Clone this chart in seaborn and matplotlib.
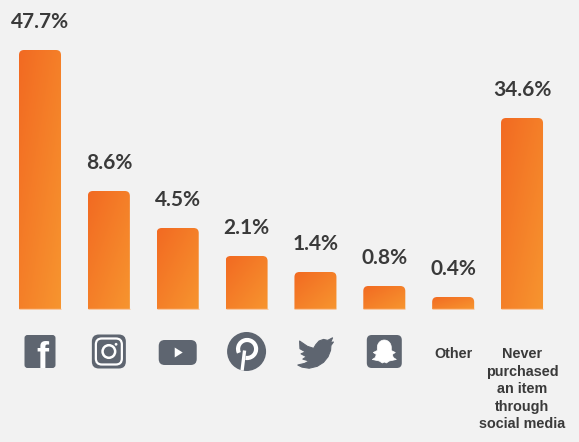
import numpy as np
import matplotlib
matplotlib.use("Agg")
import matplotlib.pyplot as plt
import seaborn as sns
from matplotlib.patches import FancyBboxPatch, Circle, Polygon, Arc
from matplotlib.colors import LinearSegmentedColormap

platforms = ["Facebook", "Instagram", "YouTube", "Pinterest", "Twitter", "Snapchat", "Other", "Never"]
shares = [47.7, 8.6, 4.5, 2.1, 1.4, 0.8, 0.4, 34.6]
# the infographic is not drawn to scale, so keep the drawn heights too
bar_heights = [259.5, 118.5, 81.5, 53.5, 37.5, 23.5, 12.5, 191.5]
tick_labels = ["", "", "", "", "", "", "Other",
               "Never\npurchased\nan item\nthrough\nsocial media"]

BG = "#f2f2f2"
ICON = "#5e6570"
TEXT = "#3a3a3a"
W, H = 579, 442
BASE = 309.5      # pixel row of the bar bottoms
STEP = 68.86      # pixels between bar centres
FIRST = 40        # pixel column of first bar centre

sns.set_style("white")
plt.rcParams["font.family"] = ["Lato", "DejaVu Sans"]

fig = plt.figure(figsize=(W / 100, H / 100), dpi=100, facecolor=BG)
ax = fig.add_axes([0, (H - BASE) / H, 1, BASE / H])
ax.set_facecolor(BG)

sns.barplot(x=platforms, y=bar_heights, ax=ax, width=0.61, color="#f37a25")

grad = LinearSegmentedColormap.from_list("org", ["#f26a22", "#f7952f"])
yy, xx = np.mgrid[0:1:100j, 0:1:30j]
tt = (xx + yy) / 2  # row 0 is the top of the image (origin upper)

aspect = STEP / 1.0
for p, val in zip(ax.patches, shares):
    x0, w, h = p.get_x(), p.get_width(), p.get_height()
    p.set_visible(False)
    r = 5 / STEP
    box = FancyBboxPatch((x0, -12), w, h + 12,
                         boxstyle=f"round,pad=0,rounding_size={r}",
                         mutation_aspect=aspect, fc="none", ec="none")
    ax.add_patch(box)
    im = ax.imshow(tt, cmap=grad, extent=(x0, x0 + w, 0, h), aspect="auto",
                   origin="upper", zorder=2, vmin=0, vmax=1)
    im.set_clip_path(box)
    ax.plot([x0, x0 + w], [0.6, 0.6], color="#f9c9a2", lw=1, zorder=3,
            solid_capstyle="butt")
    ax.annotate(f"{val}%", (x0 + w / 2, h), xytext=(0, 28),
                textcoords="offset pixels", ha="center", va="center",
                fontsize=15, fontweight="bold", color=TEXT, clip_on=False)

ax.set_xlim(-FIRST / STEP, (W - FIRST) / STEP)
ax.set_ylim(0, BASE)
ax.axis("off")

# overlay in pixel coordinates (y downwards) for icons and labels
ov = fig.add_axes([0, 0, 1, 1], zorder=5)
ov.set_xlim(0, W)
ov.set_ylim(H, 0)
ov.axis("off")
ov.patch.set_alpha(0)


def rbox(cx, cy, w, h, r, **kw):
    b = FancyBboxPatch((cx - w / 2, cy - h / 2), w, h,
                       boxstyle=f"round,pad=0,rounding_size={r}", **kw)
    ov.add_patch(b)
    return b


centers = [ax.transData.transform((i, 0))[0] for i in range(len(platforms))]
cy = 351.5

# facebook
cx = centers[0]
b = rbox(cx, cy, 31, 33, 3, fc=ICON, ec="none")
t = ov.text(cx + 2, cy + 17, "f", color="white", fontsize=26, fontweight="bold",
            family="Liberation Sans", ha="center", va="baseline")
t.set_clip_path(b)

# instagram
cx = centers[1]
rbox(cx, cy, 34, 34, 7, fc=ICON, ec="none")
rbox(cx, cy, 26, 26, 6, fc="none", ec="white", lw=1.6)
ov.add_patch(Circle((cx, cy), 6.3, fc="none", ec="white", lw=1.8))
ov.add_patch(Circle((cx + 7.2, cy - 7.2), 1.4, fc="white", ec="none"))

# youtube
cx = centers[2]
rbox(cx, cy + 1, 38, 25, 6, fc=ICON, ec="none")
ov.add_patch(Polygon([(cx - 3, cy - 4), (cx - 3, cy + 6), (cx + 5, cy + 1)],
                     closed=True, fc="white", ec="none"))

# pinterest
cx = centers[3]
ov.add_patch(Circle((cx, cy), 19.5, fc=ICON, ec="none"))
ov.add_patch(Arc((cx + 0.5, cy - 2.5), 18, 18, theta1=-205, theta2=100,
                 color="white", lw=3.0))
ov.plot([cx - 2, cx - 4.5], [cy - 1, cy + 19], color="white", lw=2.4,
        solid_capstyle="butt")

# twitter
cx = centers[4]
bird = np.array([
    (-0.88, 0.78), (-0.45, 0.45), (-0.1, 0.32), (0.02, 0.55), (0.2, 0.78),
    (0.45, 0.88), (0.68, 0.82), (0.95, 0.98), (0.84, 0.68), (1.0, 0.72),
    (0.86, 0.50), (0.84, 0.2), (0.7, -0.2), (0.45, -0.55), (0.1, -0.8),
    (-0.35, -0.92), (-0.75, -0.85), (-0.98, -0.72), (-0.6, -0.62),
    (-0.35, -0.47), (-0.7, -0.35), (-0.5, -0.2), (-0.8, -0.02),
    (-0.55, 0.1), (-0.86, 0.3),
])
ov.add_patch(Polygon(np.c_[cx + bird[:, 0] * 18, cy + 2 - bird[:, 1] * 16],
                     closed=True, fc=ICON, ec=ICON, lw=0.8, joinstyle="round"))

# snapchat
cx = centers[5]
rbox(cx, cy, 35, 33, 5, fc=ICON, ec="none")
ang = np.linspace(np.pi, 0, 20)
head = np.c_[7 * np.cos(ang), -4 - 7.5 * np.sin(ang)]
body = np.array([(7, -1), (11, 1), (8, 3), (9, 6), (12, 8), (5, 9.5), (2, 11.5),
                 (0, 10.5), (-2, 11.5), (-5, 9.5), (-12, 8), (-9, 6), (-8, 3),
                 (-11, 1), (-7, -1)])
ghost = np.vstack([head, body])
ov.add_patch(Polygon(np.c_[cx + ghost[:, 0], cy + ghost[:, 1]], closed=True,
                     fc="white", ec="white", lw=0.5, joinstyle="round"))

# text categories
for x, lab in zip(centers, tick_labels):
    if lab:
        ov.text(x, 347, lab, ha="center", va="top", fontsize=10.4,
                fontweight="bold", family="Liberation Sans", color=TEXT,
                linespacing=1.32, multialignment="center")

fig.savefig("out.png", dpi=100, facecolor=BG)
